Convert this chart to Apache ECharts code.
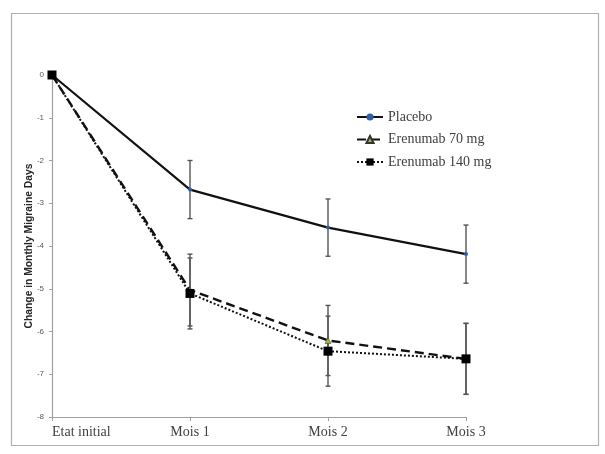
<!DOCTYPE html>
<html>
<head>
<meta charset="utf-8">
<script src="https://cdn.jsdelivr.net/npm/echarts@6/dist/echarts.min.js"></script>
<style>
html,body{margin:0;padding:0;background:#fff;}
#chart{width:605px;height:454px;}
</style>
</head>
<body>
<div id="chart"></div>
<script>
var categories = ['Etat initial', 'Mois 1', 'Mois 2', 'Mois 3'];
var placebo = [0, -2.68, -3.57, -4.19];
var erenumab70 = [0, -5.03, -6.21, -6.64];
var erenumab140 = [0, -5.11, -6.46, -6.64];
var errPlacebo = [0, 0.68, 0.67, 0.68];
var err70 = [0, 0.84, 0.82, 0.83];
var err140 = [0, 0.83, 0.82, 0.83];
var yTicks = { min: -8, max: 0, interval: 1 };

function errData(vals, errs) {
  var out = [];
  for (var i = 0; i < vals.length; i++) {
    if (errs[i] > 0) out.push([i, vals[i] - errs[i], vals[i] + errs[i]]);
  }
  return out;
}

function errRender(params, api) {
  var x = api.value(0);
  var lo = api.coord([x, api.value(1)]);
  var hi = api.coord([x, api.value(2)]);
  var w = 2.5;
  var st = { stroke: '#555', lineWidth: 1.4 };
  return {
    type: 'group',
    children: [
      { type: 'line', shape: { x1: lo[0], y1: lo[1], x2: hi[0], y2: hi[1] }, style: st },
      { type: 'line', shape: { x1: lo[0] - w, y1: lo[1], x2: lo[0] + w, y2: lo[1] }, style: st },
      { type: 'line', shape: { x1: hi[0] - w, y1: hi[1], x2: hi[0] + w, y2: hi[1] }, style: st }
    ]
  };
}

var chart = echarts.init(document.getElementById('chart'));
chart.setOption({
  animation: false,
  backgroundColor: '#fff',
  graphic: [{
    type: 'rect', left: 9, top: 11, z: -1,
    shape: { width: 587, height: 432 },
    style: { fill: 'none', stroke: '#b0b0b0', lineWidth: 1.2 }
  }],
  grid: { left: 52, right: 139, top: 75, bottom: 37 },
  legend: {
    orient: 'vertical',
    left: 351, top: 105,
    itemWidth: 26, itemHeight: 9, itemGap: 8.5,
    data: ['Placebo', 'Erenumab 70 mg', 'Erenumab 140 mg'],
    textStyle: { fontFamily: 'Liberation Serif', fontSize: 14, color: '#404040' }
  },
  xAxis: {
    type: 'category',
    data: categories,
    boundaryGap: false,
    axisLine: { onZero: false, lineStyle: { color: '#a0a0a0', width: 1.2 } },
    axisTick: { show: true, alignWithLabel: true, length: 4, lineStyle: { color: '#a0a0a0' } },
    axisLabel: { fontFamily: 'Liberation Serif', fontSize: 14, color: '#404040', margin: 8, alignMinLabel: 'left' },
    splitLine: { show: false }
  },
  yAxis: {
    type: 'value',
    min: yTicks.min, max: yTicks.max, interval: yTicks.interval,
    name: 'Change in Monthly Migraine Days',
    nameLocation: 'middle',
    nameGap: 18,
    nameMoveOverlap: false,
    nameRotate: 90,
    nameTextStyle: { fontFamily: 'Liberation Sans', fontSize: 10.3, fontWeight: 'bold', color: '#262626' },
    axisLine: { show: true, lineStyle: { color: '#a0a0a0', width: 1.2 } },
    axisTick: { show: true, length: 3, lineStyle: { color: '#a0a0a0' } },
    axisLabel: { fontFamily: 'Liberation Sans', fontSize: 8, color: '#595959', margin: 8 },
    splitLine: { show: false }
  },
  series: [
    {
      name: 'errPlacebo', type: 'custom', renderItem: errRender,
      encode: { x: 0, y: [1, 2] }, data: errData(placebo, errPlacebo), z: 1, silent: true
    },
    {
      name: 'err70', type: 'custom', renderItem: errRender,
      encode: { x: 0, y: [1, 2] }, data: errData(erenumab70, err70), z: 1, silent: true
    },
    {
      name: 'err140', type: 'custom', renderItem: errRender,
      encode: { x: 0, y: [1, 2] }, data: errData(erenumab140, err140), z: 1, silent: true
    },
    {
      name: 'Placebo', type: 'line', data: placebo, z: 3,
      symbol: 'circle', symbolSize: 4,
      lineStyle: { color: '#111', width: 2.2, type: 'solid' },
      itemStyle: { color: '#2f5fa8', borderColor: '#2f5fa8', borderWidth: 0 }
    },
    {
      name: 'Erenumab 70 mg', type: 'line', data: erenumab70, z: 3,
      symbol: 'triangle', symbolSize: 6,
      lineStyle: { color: '#111', width: 2.4, type: [9, 5] },
      itemStyle: { color: '#9bbb3b', borderColor: '#333', borderWidth: 0.5 }
    },
    {
      name: 'Erenumab 140 mg', type: 'line', data: erenumab140, z: 4,
      symbol: 'rect', symbolSize: 9,
      lineStyle: { color: '#111', width: 2, type: [2, 2] },
      itemStyle: { color: '#000' }
    }
  ]
});
</script>
</body>
</html>
